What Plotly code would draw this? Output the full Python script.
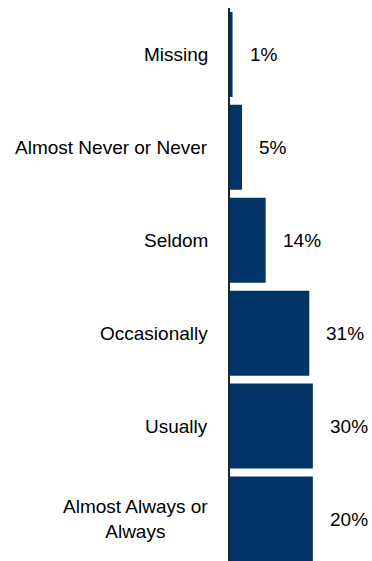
import plotly.graph_objects as go

categories = ["Missing", "Almost Never or Never", "Seldom", "Occasionally", "Usually", "Almost Always or Always"]
category_labels = ["Missing", "Almost Never or Never", "Seldom", "Occasionally", "Usually", "Almost Always or<br>Always"]
bar_lengths = [1, 4.7, 14, 31.1, 32.5, 32.5]
pct_labels = ["1%", "5%", "14%", "31%", "30%", "20%"]

FONT = "Liberation Sans, Arial, sans-serif"
BAR = "#003366"

fig = go.Figure(go.Bar(
    y=categories, x=bar_lengths, orientation="h",
    marker=dict(color=BAR, line=dict(width=0)),
    hoverinfo="skip",
))

annotations = []
for c, v, t in zip(categories, bar_lengths, pct_labels):
    annotations.append(dict(x=v, y=c, xref="x", yref="y", text=t, showarrow=False,
                            xanchor="left", xshift=15, font=dict(family=FONT, size=19, color="#000")))
for c, lab in zip(categories, category_labels):
    annotations.append(dict(x=0, y=c, xref="paper", yref="y", text=lab, showarrow=False,
                            xanchor="right", align="center", xshift=-20,
                            font=dict(family=FONT, size=19, color="#000")))

fig.update_layout(
    width=372, height=561,
    margin=dict(l=230, r=0, t=8, b=0),
    paper_bgcolor="white", plot_bgcolor="white",
    bargap=0.085,
    showlegend=False,
    annotations=annotations,
    xaxis=dict(range=[0, 55.7], visible=False, fixedrange=True),
    yaxis=dict(categoryorder="array", categoryarray=categories,
               range=[5.452, -0.5], showticklabels=False, ticks="",
               showline=True, linecolor="#222", linewidth=2, showgrid=False,
               zeroline=False, fixedrange=True),
)

fig.write_html("out.html", config={"displayModeBar": False},
               post_script="document.body.style.margin='0';document.body.style.overflow='hidden';")
